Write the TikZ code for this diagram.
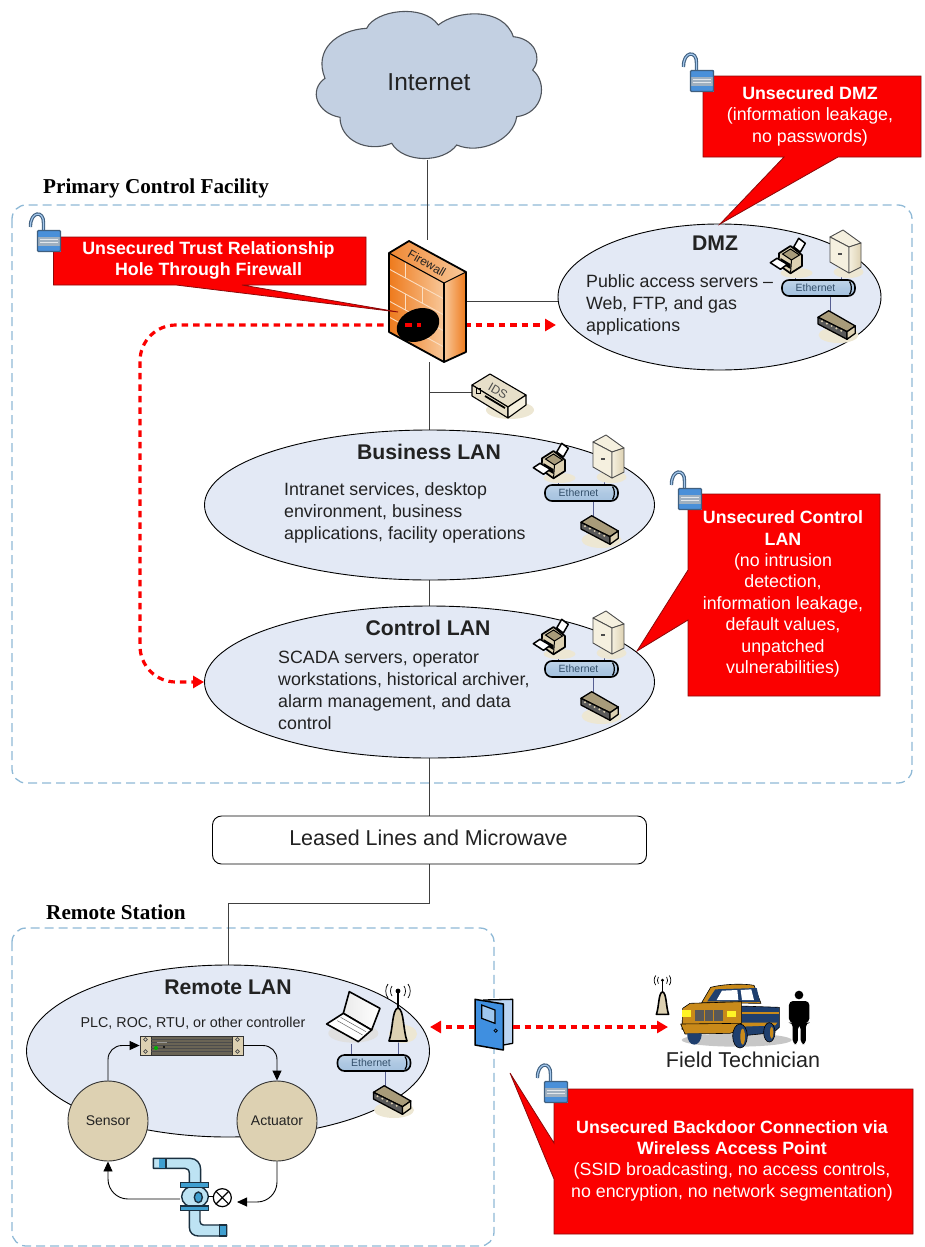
\documentclass[tikz,border=0pt]{standalone}
\usepackage{fontspec}
\setmainfont{Liberation Sans}
\newfontfamily\headfont{Liberation Serif}
\usetikzlibrary{shapes.geometric,arrows.meta,backgrounds}
\definecolor{boxdash}{HTML}{8FB9D6}
\definecolor{lanfill}{HTML}{E3E9F5}
\definecolor{cloudfill}{HTML}{C3D0E2}
\definecolor{cloudline}{HTML}{50555C}
\definecolor{alarm}{HTML}{FB0000}
\definecolor{alarmline}{HTML}{8A0A0A}
\definecolor{txt}{HTML}{222222}
\definecolor{tan}{HTML}{DDD1B2}
\definecolor{tandark}{HTML}{A89B7A}
\definecolor{cream}{HTML}{F5F0DF}
\definecolor{linkblue}{HTML}{565E92}
\definecolor{barblue}{HTML}{A5C2DF}
\definecolor{barink}{HTML}{34506B}
\definecolor{lockblue}{HTML}{4A90D9}
\definecolor{lockgrey}{HTML}{9FB0C0}
\definecolor{lockdark}{HTML}{3F5F7F}
\definecolor{pipe}{HTML}{BDE3F3}
\definecolor{pipecap}{HTML}{3F9FD0}
\definecolor{pipedark}{HTML}{1A3040}
\definecolor{fwdark}{HTML}{EE7A1C}
\definecolor{fwpale}{HTML}{F8C89A}
\definecolor{gold}{HTML}{C98A1A}
\definecolor{truckblue}{HTML}{1F3F6E}
\definecolor{doorblue}{HTML}{3F8FE0}
\definecolor{doorpale}{HTML}{BBD4F2}
\definecolor{shadowtan}{HTML}{EDE7D3}
\tikzset{
  every node/.style={text=txt},
  lan/.style={ellipse,draw=black,line width=.9pt,fill=lanfill,inner sep=0pt},
  region/.style={draw=boxdash,line width=1.3pt,dash pattern=on 9pt off 5pt,rounded corners=14pt},
  wire/.style={draw=black!75,line width=1pt},
  reddash/.style={draw=alarm,line width=3.2pt,dash pattern=on 6.5pt off 5pt,
    -{Triangle[length=11pt,width=12pt,fill=alarm]}},
  flow/.style={draw=black,line width=.9pt,-{Triangle[length=10pt,width=9pt,fill=black]}},
  callout/.style={fill=alarm,draw=alarmline,line width=.8pt,line join=miter},
  callouttext/.style={text=white,align=center,inner sep=0pt,font=\fontsize{17.8}{21.4}\selectfont},
  title/.style={font=\bfseries\fontsize{21.2}{24}\selectfont,inner sep=0pt},
  body/.style={font=\fontsize{17.8}{21.8}\selectfont,align=left,anchor=west,inner sep=0pt},
  head/.style={font=\headfont\bfseries\fontsize{21.2}{24}\selectfont,anchor=west,inner sep=0pt,text=black},
  round/.style={circle,draw=black!80,line width=.9pt,fill=tan,minimum size=80pt,inner sep=0pt,font=\fontsize{14}{16}\selectfont},
  lockicon/.pic={
    \draw[lockdark,line width=3.4pt] (-18.5,-14) .. controls (-19,-30) and (-5,-31) .. (-5.5,-18) -- (-5.5,-9);
    \draw[lockblue!50,line width=1.2pt] (-18.5,-14) .. controls (-19,-30) and (-5,-31) .. (-5.5,-18) -- (-5.5,-9);
    \fill[lockgrey] (-11.5,-10.5) rectangle (11.5,10.5);
    \fill[lockblue] (-11.5,-10.5) rectangle (11.5,-4.5);
    \fill[lockblue] (-11.5,4.5) rectangle (11.5,10.5);
    \draw[white!70!lockgrey,line width=.6pt] (-9,-1.5) -- (9,-1.5) (-9,1.5) -- (9,1.5);
    \draw[lockdark,line width=1.1pt,rounded corners=1pt] (-11.5,-10.5) rectangle (11.5,10.5);
  },
  ethbus/.pic={
    \draw[linkblue,line width=1pt] (11.5,8) -- (11.5,24);
    \fill[shadowtan] (20,47) ellipse (20 and 8);
    \draw[black,line width=1.3pt,fill=tandark,line join=round] (10.2,22.7) -- (-0.5,29.3) -- (28.5,43.7) -- (36.8,38) -- cycle;
    \draw[black,line width=1.3pt,fill=black!65,line join=round] (-0.5,29.3) -- (28.5,43.7) -- (28.5,51.3) -- (-0.5,36) -- cycle;
    \draw[black,line width=1.3pt,fill=tan,line join=round] (28.5,43.7) -- (36.8,38) -- (36.8,45.3) -- (28.5,51.3) -- cycle;
    \foreach \k in {0,1,2,3,4}{\fill[tan] (3.5+4.8*\k,33.2+2.4*\k) circle (1.1);}
    \shade[top color=barblue!70,bottom color=barblue,middle color=barblue!90,draw=black,line width=1.6pt,rounded corners=7pt] (-36.5,-8) rectangle (36.5,8);
    \draw[black,line width=1.2pt] (31,-6.5) .. controls (33.5,-3) and (33.5,3) .. (31,6.5);
    \node[font=\fontsize{10.5}{12}\selectfont,text=barink,inner sep=0pt] (lbl) at (-3,0) {Ethernet};
  },
  printericon/.pic={
    \draw[linkblue,line width=1pt] (-23.5,-14) -- (-23.5,-8);
    \fill[shadowtan] (-22,-15) ellipse (16 and 5);
    \draw[black,line width=1.5pt,fill=white,line join=round] (-24.8,-41) -- (-19.8,-49.7) -- (-13.2,-44.7) -- (-18.2,-36) -- cycle;
    \draw[black,line width=1.7pt,fill=tan,line join=round] (-39.5,-34.7) -- (-28,-42) -- (-16.5,-33) -- (-16.5,-22) -- (-28,-14.7) -- (-39.8,-23) -- cycle;
    \draw[black,line width=1pt,fill=tandark] (-36,-34) -- (-28,-39) -- (-19,-33) -- (-27,-28) -- cycle;
    \draw[black,line width=1pt] (-27,-28) -- (-28,-14.7);
    \fill[black] (-38,-30) -- (-28,-24) -- (-28,-19) -- (-38,-25) -- cycle;
    \draw[black,line width=1.5pt,fill=white,line join=round] (-48.2,-25.3) -- (-41.5,-29.7) -- (-31.2,-23.7) -- (-38,-18.7) -- cycle;
  },
  servericon/.pic={
    \draw[linkblue,line width=1pt] (23,-18) -- (23,-8);
    \fill[shadowtan] (30,-16) ellipse (15 and 6);
    \draw[black!70,line width=.9pt,fill=cream,line join=round] (24.5,-58) -- (11.5,-51) -- (30.5,-41) -- (42.5,-45) -- cycle;
    \draw[black!70,line width=.9pt,fill=cream,line join=round] (11.5,-51) -- (30.5,-41) -- (30.5,-15) -- (11.5,-26) -- cycle;
    \shade[left color=cream,right color=tan,draw=black!70,line width=.9pt,line join=round] (30.5,-41) -- (42.5,-45) -- (42.5,-21) -- (30.5,-15) -- cycle;
    \fill[black!70] (19.5,-35.5) rectangle (23,-33.5);
  },
  apicon/.pic={
    \draw[black,line width=1.6pt,fill=tan,line join=round] (-9,-1) .. controls (-5,-12) and (-6,-33) .. (0,-34) .. controls (6,-33) and (5,-12) .. (9,-1) -- cycle;
    \draw[black,line width=1.6pt] (0,-34) -- (0,-51);
    \fill[black] (0,-51) circle (2.4);
    \draw[black,line width=.7pt] (-6,-56) .. controls (-8,-53) and (-8,-49) .. (-6,-46)
      (6,-56) .. controls (8,-53) and (8,-49) .. (6,-46)
      (-10,-58) .. controls (-13,-54) and (-13,-48) .. (-10,-44)
      (10,-58) .. controls (13,-54) and (13,-48) .. (10,-44);
  }
}
\begin{document}
\begin{tikzpicture}[x=1pt,y=-1pt]
\useasboundingbox (0,0) rectangle (924,1247);

% ---------- cloud
\draw[draw=cloudline,line width=1.1pt,fill=cloudfill]
  (366.7,28.3) .. controls (375,10) and (423.3,3.3) .. (438.3,25)
  .. controls (456.7,10) and (503.3,6.7) .. (513.3,36.7)
  .. controls (533.3,38.3) and (543.3,56.7) .. (532.7,70)
  .. controls (548.3,83.3) and (543.3,113.3) .. (516.7,116.7)
  .. controls (513.3,140) and (480,155) .. (456.7,145)
  .. controls (443.3,163.3) and (403.3,163.3) .. (391.7,143.3)
  .. controls (366.7,153.3) and (340,140) .. (340,117.3)
  .. controls (316.7,113.3) and (308.3,90) .. (325,78.3)
  .. controls (313.3,50) and (336.7,30) .. (366.7,28.3) -- cycle;

% ---------- named nodes
\node[inner sep=0pt,minimum width=230pt,minimum height=156pt] (inet) at (429,82) {};
\node[font=\fontsize{24.5}{28}\selectfont,inner sep=0pt] (inetlbl) at (429,82) {Internet};
\node[inner sep=0pt,minimum width=77pt,minimum height=121pt] (fw) at (427.5,301) {};
\node[lan,minimum width=323pt,minimum height=146pt] (dmz) at (719.5,297) {};
\node[lan,minimum width=450pt,minimum height=150pt] (biz) at (429.5,505) {};
\node[lan,minimum width=450pt,minimum height=152pt] (ctl) at (429.5,682) {};
\node[lan,minimum width=403pt,minimum height=172pt] (rem) at (228,1051) {};
\node[draw=black,line width=.9pt,fill=white,rounded corners=9pt,minimum width=434pt,minimum height=48pt,inner sep=0pt,font=\fontsize{21.5}{24}\selectfont] (leased) at (429.5,840) {};
\node[font=\fontsize{21.5}{24}\selectfont,inner sep=0pt] (leasedl) at (428.5,838) {Leased Lines and Microwave};
\coordinate (hole) at (418,325);
\coordinate (idsport) at (472,392);
\coordinate (doorl) at (475,1027);
\coordinate (doorr) at (513,1027);
\coordinate (techpt) at (668,1027);

% ---------- everything behind the nodes
\begin{scope}[on background layer]
  \draw[region] (12,205) rectangle (912,783);
  \draw[region] (12,928) rectangle (494,1246);
  \draw[wire] ([xshift=-2pt]inet.south) -- ([xshift=-2pt]inet.south |- fw.north);
  \draw[wire] (fw.east) -- (fw.east -| dmz.west);
  \draw[wire] (biz.north) -- (biz.north |- fw.south);
  \draw[wire] (biz.north |- idsport) -- (idsport);
  \draw[wire] (biz.south) -- (ctl.north);
  \draw[wire] (ctl.south) -- (leased.north);
  \draw[wire] (leased.south) -- ++(0,39) -| (rem.north);
  \draw[reddash] (hole) -- (556,325);
  \draw[reddash,rounded corners=36pt] (hole) -- (140,325) -- (140,682) -- (ctl.west);
\end{scope}

% ---------- firewall
\shade[left color=fwdark,right color=fwpale] (389,253) -- (444,283) -- (444,362) -- (389,332) -- cycle;
\shade[left color=fwdark!90,right color=fwpale] (389,253) -- (409,241) -- (466,272) -- (444,283) -- cycle;
\shade[left color=fwpale,right color=fwdark] (444,283) -- (466,272) -- (466,352) -- (444,362) -- cycle;
\foreach \d in {16,32,48,64}{\draw[fwpale!60!white,line width=.9pt] (389,253+\d) -- (444,283+\d);}
\foreach \xa/\dd in {405/0,422/16,405/32,422/48,405/64}{
  \draw[fwpale!60!white,line width=.9pt] (\xa,253+\dd+0.545*\xa-212) -- (\xa,253+\dd+0.545*\xa-196);}
\draw[black,line width=1.8pt,line join=round] (389,253) -- (409,241) -- (466,272) -- (466,352) -- (444,362) -- (389,332) -- cycle;
\draw[black,line width=1.1pt] (389,253) -- (444,283) -- (466,272);
\draw[black,line width=1.1pt] (444,283) -- (444,362);
\node[rotate=-30,font=\fontsize{12}{14}\selectfont,inner sep=0pt] (fwlbl) at (427,263) {Firewall};
\fill[black,rotate around={22:(418,325)}] (418,325) ellipse (22 and 16);
\draw[alarm,line width=3.2pt,dash pattern=on 6.5pt off 5pt] (405,325) -- (421,325);

% ---------- IDS
\fill[shadowtan] (510,410) ellipse (24 and 9);
\draw[black,line width=1.1pt,fill=tan!70!white,line join=round] (472,385) -- (490,374) -- (526,395) -- (508,407) -- cycle;
\draw[black,line width=1.1pt,fill=tan!70!white,line join=round] (472,385) -- (508,407) -- (508,418) -- (472,396) -- cycle;
\draw[black,line width=1.1pt,fill=cream,line join=round] (508,407) -- (526,395) -- (526,405) -- (508,418) -- cycle;
\draw[black,line width=1.8pt] (485,396) -- (505,408);
\draw[black,line width=.8pt] (476,388) rectangle (480,393);
\node[rotate=-30,font=\fontsize{12}{14}\selectfont,inner sep=0pt,text=black!70] (idslbl) at (498,391) {IDS};

% ---------- LAN labels
\node[title] (dmzt) at (715,243) {DMZ};
\node[body] (dmzb) at (586,305) {Public access servers --\\Web, FTP, and gas\\applications};
\node[title] (bizt) at (429,452) {Business LAN};
\node[body] (bizb) at (284,513) {Intranet services, desktop\\environment, business\\applications, facility operations};
\node[title] (ctlt) at (428,628) {Control LAN};
\node[body] (ctlb) at (278,690.5) {SCADA servers, operator\\workstations, historical archiver,\\alarm management, and data\\control};
\node[title] (remt) at (228,987) {Remote LAN};
\node[font=\fontsize{14.3}{16}\selectfont,inner sep=0pt] (plct) at (193,1023) {PLC, ROC, RTU, or other controller};

% ---------- LAN equipment
\pic at (818.5,288) {printericon};
\pic at (818.5,288) {servericon};
\pic at (818.5,288) {ethbus};
\pic at (581.5,493) {printericon};
\pic at (581.5,493) {servericon};
\pic at (581.5,493) {ethbus};
\pic at (581.5,669) {printericon};
\pic at (581.5,669) {servericon};
\pic at (581.5,669) {ethbus};

% ---------- remote LAN
\draw[linkblue,line width=1pt] (351,1044) -- (351,1056);
\draw[linkblue,line width=1pt] (398,1042) -- (398,1056);
\pic at (374,1063) {ethbus};
\fill[shadowtan] (403,1034) ellipse (14 and 9);
\begin{scope}[shift={(0,950)}]
\begin{scope}[x=.3333pt,y=-.3333pt]
  \fill[black!12] (1060,250) ellipse (75 and 28);
  \shade[left color=black!8,right color=white,draw=black,line width=1.6pt,line join=round]
    (1048,125) -- (1140,175) -- (1115,240) -- (1030,190) -- cycle;
  \draw[black,line width=1.6pt,fill=white,line join=round] (1030,190) -- (1115,240) -- (1075,275) -- (980,222) -- cycle;
  \draw[black!60,line width=.5pt] (1022,202) -- (1098,245) (1012,212) -- (1088,255);
\end{scope}
\end{scope}
\pic at (398,1042) {apicon};
\node[draw=black!80,line width=.8pt,fill=black!52!tan,minimum width=103pt,minimum height=19pt,inner sep=0pt] (plc) at (191.5,1045.5) {};
\fill[tan] (140,1036) rectangle (151,1055);
\fill[tan] (232,1036) rectangle (243,1055);
\draw[black!80,line width=.8pt] (140,1036) rectangle (243,1055) (151,1036) -- (151,1055) (232,1036) -- (232,1055);
\foreach \yy in {1039,1042,1045,1048,1051}{\draw[black!70,line width=.7pt] (151,\yy) -- (232,\yy);}
\foreach \xx/\yy in {145.5/1039.5,145.5/1051.5,237.5/1039.5,237.5/1051.5}{\draw[black!70,line width=.7pt] (\xx,\yy) circle (1.8);}
\fill[green!70!black] (156,1048) circle (2);
\fill[black] (164,1047) circle (1.2);
\draw[white!60!black,line width=1pt] (157,1042) -- (167,1042);
\node[round] (sensor) at (108,1121) {Sensor};
\node[round] (act) at (277,1121) {Actuator};
\coordinate (valvein) at (180,1199);
\coordinate (valveout) at (237,1202);
\draw[flow,rounded corners=14pt] (sensor.north) |- (plc.west);
\draw[flow,rounded corners=14pt] (plc.east) -| (act.north);
\draw[flow,rounded corners=20pt] (act.south) |- (valveout);
\draw[flow,rounded corners=20pt] (valvein) -| (sensor.south);

% ---------- valve
\begin{scope}[shift={(130,1150)}]
\begin{scope}[x=.3333pt,y=-.3333pt]
  \draw[pipedark,line width=1.4pt,fill=pipe,line join=round] (70,25) -- (180,25) .. controls (200,25) and (212,40) .. (212,58) -- (212,100) -- (178,100) -- (178,70) .. controls (178,60) and (172,55) .. (165,55) -- (70,55) -- cycle;
  \fill[pipecap] (86,25) rectangle (108,55);
  \draw[pipedark,line width=1.4pt] (70,25) rectangle (108,55);
  \draw[pipedark,line width=1.4pt,fill=pipe,line join=round] (178,180) -- (178,232) .. controls (178,248) and (190,258) .. (205,258) -- (290,258) -- (290,225) -- (220,225) .. controls (214,225) and (210,220) .. (210,214) -- (210,180) -- cycle;
  \draw[pipedark,line width=1.4pt,fill=pipecap] (268,225) rectangle (290,258);
  \draw[pipedark,line width=1.4pt,fill=pipe] (195,140) ellipse (40 and 33);
  \draw[pipedark,line width=1.2pt,fill=pipecap] (152,98) rectangle (236,112);
  \draw[pipedark,line width=1.2pt,fill=pipecap] (152,168) rectangle (236,182);
  \draw[pipedark,line width=1.4pt,fill=pipecap] (205,142) ellipse (12 and 16);
  \draw[black,line width=1pt] (235,140) -- (250,140);
  \draw[black,line width=1.2pt,fill=white] (277,143) circle (27);
  \draw[black,line width=1.2pt] (258,124) -- (296,162) (296,124) -- (258,162);
\end{scope}
\end{scope}

% ---------- door
\begin{scope}[shift={(450,960)}]
\begin{scope}[x=.3333pt,y=-.3333pt]
  \draw[black,line width=1.3pt,fill=doorpale,line join=round] (100,120) -- (188,118) -- (188,250) -- (160,255) -- cycle;
  \draw[black,line width=1.5pt,fill=doorblue,line join=round] (75,118) -- (160,132) -- (160,270) -- (75,255) -- cycle;
  \draw[black,line width=1.2pt,fill=doorblue!50!white] (95,135) -- (135,150) -- (135,190) -- (95,175) -- cycle;
  \draw[black,line width=.8pt] (137,212) circle (5);
\end{scope}
\end{scope}
\draw[reddash] (doorl) -- (430,1027);
\draw[reddash] (doorr) -- (techpt);

% ---------- truck, technician
\pic[scale=.68] at (662.5,1015) {apicon};
\begin{scope}[shift={(650,970)}]
\begin{scope}[x=.3333pt,y=-.3333pt]
  \fill[black!22] (260,210) ellipse (165 and 20);
  \draw[black,line width=.6pt,fill=truckblue,line join=round] (270,108) -- (388,112) -- (388,172) -- (370,188) -- (270,198) -- cycle;
  \fill[gold] (275,125) -- (388,125) -- (388,133) -- (275,133) -- cycle;
  \fill[gold] (275,158) -- (382,158) -- (376,166) -- (275,170) -- cycle;
  \draw[black,line width=.6pt,fill=gold,line join=round] (155,98) -- (182,52) .. controls (220,42) and (280,40) .. (312,46) -- (333,100) -- cycle;
  \fill[truckblue] (172,94) -- (196,58) -- (320,54) -- (330,96) -- cycle;
  \fill[white] (200,90) -- (216,62) -- (262,60) -- (265,90) -- cycle;
  \fill[white] (276,90) -- (272,60) -- (304,58) -- (312,90) -- cycle;
  \draw[black,line width=.6pt,fill=gold,line join=round] (98,115) -- (120,100) -- (275,95) -- (275,170) -- (96,178) -- cycle;
  \fill[black!65] (135,120) rectangle (218,152);
  \draw[gold,line width=.8pt] (162,120) -- (162,152) (190,120) -- (190,152);
  \fill[yellow!85!white] (97,120) rectangle (122,140);
  \fill[yellow!85!white] (232,122) rectangle (258,142);
  \draw[black,line width=.6pt,fill=gold,line join=round] (92,162) -- (272,160) -- (272,180) -- (240,190) -- (105,192) -- cycle;
  \fill[truckblue] (112,190) .. controls (110,235) and (155,235) .. (155,190) -- cycle;
  \draw[black,line width=.6pt,fill=truckblue] (270,198) ellipse (22 and 36);
  \fill[gold] (278,200) ellipse (7 and 24);
  \draw[black,line width=.6pt,fill=truckblue] (358,187) ellipse (17 and 29);
  \fill[gold] (365,188) ellipse (5 and 18);
  \fill[black] (447,75) circle (13);
  \fill[black,rounded corners=4pt] (417,93) -- (478,93) -- (478,158) -- (468,158) -- (468,222) -- (452,222) -- (452,165) -- (444,165) -- (444,222) -- (428,222) -- (428,158) -- (417,158) -- cycle;
\end{scope}
\end{scope}
\node[font=\fontsize{21.5}{24}\selectfont,inner sep=0pt] (techl) at (743,1060) {Field Technician};

% ---------- region captions
\node[head] (primary) at (43,188) {Primary Control Facility};
\node[head] (remotest) at (46,912) {Remote Station};

% ---------- red callouts
\draw[callout] (53.5,237) -- (366,237) -- (366,285) -- (242,285) -- (398,312) -- (176,285) -- (53.5,285) -- cycle;
\node[callouttext] (ctrust) at (208.5,260.5) {\textbf{Unsecured Trust Relationship}\\\textbf{Hole Through Firewall}};
\draw[callout] (703,76) -- (921,76) -- (921,157) -- (838,157) -- (720,224) -- (784,157) -- (703,157) -- cycle;
\node[callouttext] (cdmz) at (810,116) {\textbf{Unsecured DMZ}\\(information leakage,\\no passwords)};
\draw[callout] (688,494) -- (880,494) -- (880,696) -- (688,696) -- (688,620) -- (637,651) -- (688,570) -- cycle;
\node[callouttext] (cctl) at (783,594) {\textbf{Unsecured Control}\\\textbf{LAN}\\(no intrusion\\detection,\\information leakage,\\default values,\\unpatched\\vulnerabilities)};
\draw[callout] (554,1089) -- (913,1089) -- (913,1234) -- (554,1234) -- (554,1179) -- (510,1073) -- (554,1143) -- cycle;
\node[callouttext] (cback) at (732,1160.5) {\textbf{Unsecured Backdoor Connection via}\\\textbf{Wireless Access Point}\\(SSID broadcasting, no access controls,\\no encryption, no network segmentation)};

% ---------- locks
\pic at (49,241) {lockicon};
\pic at (702,81) {lockicon};
\pic at (690,499) {lockicon};
\pic at (556,1092) {lockicon};
\end{tikzpicture}
\end{document}
